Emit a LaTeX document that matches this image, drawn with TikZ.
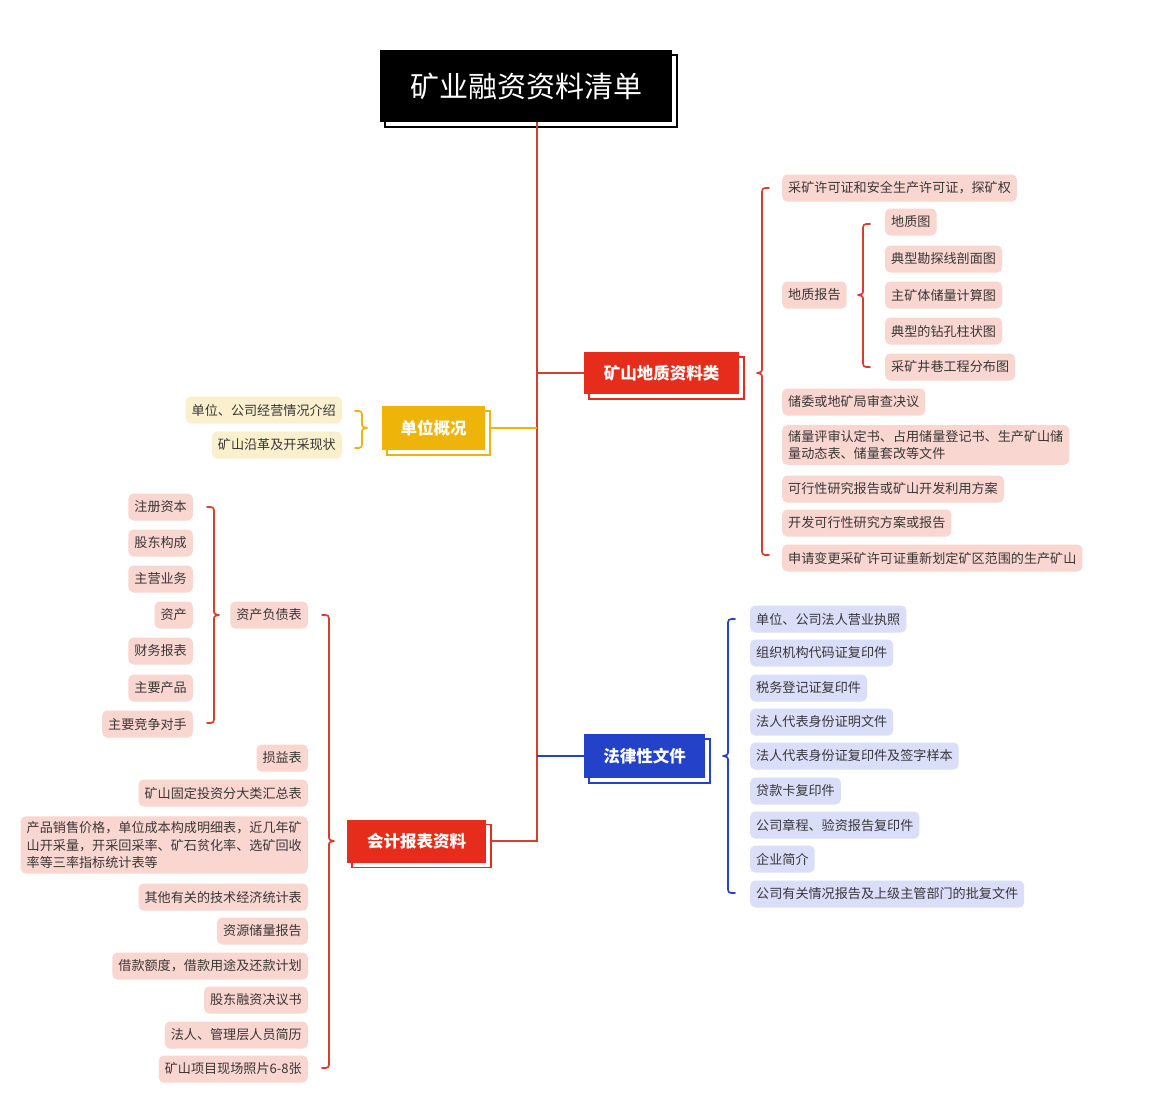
\documentclass[tikz,border=0pt]{standalone}
\usepackage{fontspec}
\newfontfamily\cjk{Noto Sans CJK SC}
\usetikzlibrary{shadows}
\definecolor{redbox}{RGB}{230,45,28}
\definecolor{redln}{RGB}{214,62,45}
\definecolor{yelbox}{RGB}{238,180,10}
\definecolor{blubox}{RGB}{36,66,200}
\definecolor{pinkbg}{RGB}{250,214,208}
\definecolor{yelbg}{RGB}{250,240,206}
\definecolor{blubg}{RGB}{218,222,248}
\definecolor{txt}{RGB}{55,55,55}
\newcommand\mindbrace[6]{%
 \draw[#1, line width=1.7pt, line cap=round, line join=round]
 ({#2+(#6)*7},#3) .. controls (#2,#3) .. (#2,{#3+7}) -- (#2,{#4-6})
 .. controls (#2,{#4-1}) .. ({#2-(#6)*5},#4)
 .. controls (#2,{#4+1}) .. (#2,{#4+6}) -- (#2,{#5-7})
 .. controls (#2,#5) .. ({#2+(#6)*7},#5);}
\begin{document}
\begin{tikzpicture}[x=1pt,y=-1pt,
 leaf/.style={rounded corners=5pt, minimum height=27pt, inner xsep=6pt, inner ysep=5pt,
   font=\cjk\fontsize{13.1}{17.5}\selectfont, text=txt, align=left},
 pk/.style={leaf, fill=pinkbg},
 yl/.style={leaf, fill=yelbg},
 bl/.style={leaf, fill=blubg},
 branch/.style={fill=#1, text=white, font=\cjk\bfseries\fontsize{16.5}{18}\selectfont,
   inner sep=0pt, copy shadow={shadow xshift=5pt, shadow yshift=-5pt, fill=white, draw=#1, line width=1.2pt}},
 conn/.style={line width=1.6pt}
]
\useasboundingbox (0,0) rectangle (1174,1109);
\fill[white] (0,0) rectangle (1174,1109);

% title
\node[fill=black, text=white, font=\cjk\fontsize{29}{31}\selectfont, minimum width=292pt, minimum height=72pt,
  inner sep=0pt, copy shadow={shadow xshift=5pt, shadow yshift=-5pt, fill=white, draw=black, line width=1.2pt}]
  (title) at (526,86) {矿业融资资料清单};
\path (title.south) ++(11,0) coordinate (ttop);

% branches
\node[branch=redbox, minimum width=155pt, minimum height=42pt] (geo) at (661.5,373) {矿山地质资料类};
\node[branch=yelbox, minimum width=103pt, minimum height=44pt] (unit) at (433.5,428) {单位概况};
\node[branch=blubox, minimum width=121pt, minimum height=44pt] (law) at (644.5,756) {法律性文件};
\node[branch=redbox, minimum width=139pt, minimum height=43pt] (acct) at (416.5,841) {会计报表资料};

% connectors
\draw[conn, redln] (ttop) |- ([xshift=5pt]acct.east);
\draw[conn, yelbox] (ttop |- unit.east) -- ([xshift=5pt]unit.east);
\draw[conn, redln] (ttop |- geo.west) -- (geo.west);
\draw[conn, blubox] (ttop |- law.west) -- (law.west);

% geology leaves
\node[pk, anchor=west] (g1) at (782,188) {采矿许可证和安全生产许可证，探矿权};
\node[pk, anchor=west] (g2) at (782,295) {地质报告};
\node[pk, anchor=west] (gs1) at (885,222) {地质图};
\node[pk, anchor=west] (gs2) at (885,259) {典型勘探线剖面图};
\node[pk, anchor=west] (gs3) at (885,295) {主矿体储量计算图};
\node[pk, anchor=west] (gs4) at (885,331) {典型的钻孔柱状图};
\node[pk, anchor=west] (gs5) at (885,367) {采矿井巷工程分布图};
\node[pk, anchor=west] (g3) at (782,402) {储委或地矿局审查决议};
\node[pk, anchor=west] (g4) at (782,445) {储量评审认定书、占用储量登记书、生产矿山储\\量动态表、储量套改等文件};
\node[pk, anchor=west] (g5) at (782,489) {可行性研究报告或矿山开发利用方案};
\node[pk, anchor=west] (g6) at (782,523) {开发可行性研究方案或报告};
\node[pk, anchor=west] (g7) at (782,558) {申请变更采矿许可证重新划定矿区范围的生产矿山};
\mindbrace{redln}{762}{188}{373}{555}{1}
\mindbrace{redln}{863}{224}{295}{367}{1}

% unit leaves
\node[yl, anchor=east] (u1) at (342,410) {单位、公司经营情况介绍};
\node[yl, anchor=east] (u2) at (342,445) {矿山沿革及开采现状};
\mindbrace{yelbox}{362}{411}{428}{448}{-1}

% accounting leaves
\node[pk, anchor=east] (a1) at (308,615) {资产负债表};
\node[pk, anchor=east] (s1) at (193,507) {注册资本};
\node[pk, anchor=east] (s2) at (193,543) {股东构成};
\node[pk, anchor=east] (s3) at (193,579) {主营业务};
\node[pk, anchor=east] (s4) at (193,615) {资产};
\node[pk, anchor=east] (s5) at (193,651) {财务报表};
\node[pk, anchor=east] (s6) at (193,688) {主要产品};
\node[pk, anchor=east] (s7) at (193,724) {主要竞争对手};
\node[pk, anchor=east] (a2) at (308,758) {损益表};
\node[pk, anchor=east] (a3) at (308,793) {矿山固定投资分大类汇总表};
\node[pk, anchor=east] (a4) at (308,845) {产品销售价格，单位成本构成明细表，近几年矿\\山开采量，开采回采率、矿石贫化率、选矿回收\\率等三率指标统计表等};
\node[pk, anchor=east] (a5) at (308,897) {其他有关的技术经济统计表};
\node[pk, anchor=east] (a6) at (308,931) {资源储量报告};
\node[pk, anchor=east] (a7) at (308,966) {借款额度，借款用途及还款计划};
\node[pk, anchor=east] (a8) at (308,1000) {股东融资决议书};
\node[pk, anchor=east] (a9) at (308,1035) {法人、管理层人员简历};
\node[pk, anchor=east] (a10) at (308,1069) {矿山项目现场照片6-8张};
\mindbrace{redln}{329}{615}{841}{1068}{-1}
\mindbrace{redln}{214}{507}{615}{723}{-1}

% law leaves
\node[bl, anchor=west] (l1) at (750,619) {单位、公司法人营业执照};
\node[bl, anchor=west] (l2) at (750,653) {组织机构代码证复印件};
\node[bl, anchor=west] (l3) at (750,688) {税务登记证复印件};
\node[bl, anchor=west] (l4) at (750,722) {法人代表身份证明文件};
\node[bl, anchor=west] (l5) at (750,756) {法人代表身份证复印件及签字样本};
\node[bl, anchor=west] (l6) at (750,791) {贷款卡复印件};
\node[bl, anchor=west] (l7) at (750,825) {公司章程、验资报告复印件};
\node[bl, anchor=west] (l8) at (750,859) {企业简介};
\node[bl, anchor=west] (l9) at (750,894) {公司有关情况报告及上级主管部门的批复文件};
\mindbrace{blubox}{728}{619}{756}{893}{1}
\end{tikzpicture}
\end{document}
